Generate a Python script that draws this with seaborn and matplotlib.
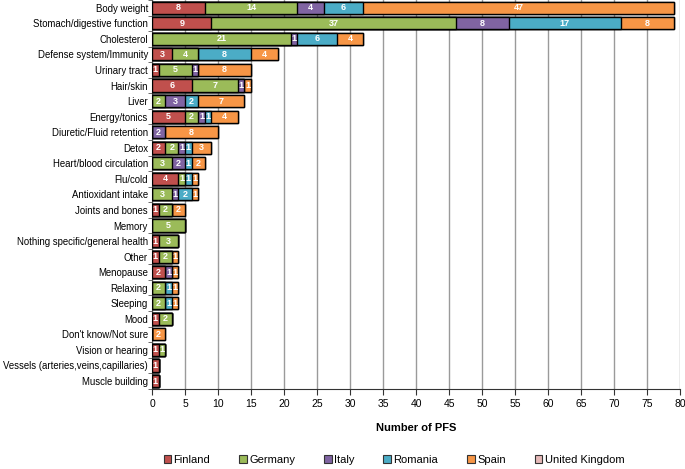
import numpy as np
import pandas as pd
import matplotlib.pyplot as plt
import seaborn as sns
from matplotlib.patches import Patch

categories = [
    "Body weight", "Stomach/digestive function", "Cholesterol", "Defense system/Immunity",
    "Urinary tract", "Hair/skin", "Liver", "Energy/tonics", "Diuretic/Fluid retention",
    "Detox", "Heart/blood circulation", "Flu/cold", "Antioxidant intake", "Joints and bones",
    "Memory", "Nothing specific/general health", "Other", "Menopause", "Relaxing",
    "Sleeping", "Mood", "Don't know/Not sure", "Vision or hearing",
    "Vessels (arteries,veins,capillaries)", "Muscle building",
]
finland = [8, 9, 0, 3, 1, 6, 0, 5, 0, 2, 0, 4, 0, 1, 0, 1, 1, 2, 0, 0, 1, 0, 1, 1, 1]
germany = [14, 37, 21, 4, 5, 7, 2, 2, 0, 2, 3, 1, 3, 2, 5, 3, 2, 0, 2, 2, 2, 0, 1, 0, 0]
italy = [4, 8, 1, 0, 1, 1, 3, 1, 2, 1, 2, 0, 1, 0, 0, 0, 0, 1, 0, 0, 0, 0, 0, 0, 0]
romania = [6, 17, 6, 8, 0, 0, 2, 1, 0, 1, 1, 1, 2, 0, 0, 0, 0, 0, 1, 1, 0, 0, 0, 0, 0]
spain = [47, 8, 4, 4, 8, 1, 7, 4, 8, 3, 2, 1, 1, 2, 0, 0, 1, 1, 1, 1, 0, 2, 0, 0, 0]
uk = [0] * 25

countries = ["Finland", "Germany", "Italy", "Romania", "Spain", "United Kingdom"]
colors = ["#C0504D", "#9BBB59", "#8064A2", "#4BACC6", "#F79646", "#E6B9B8"]

df = pd.DataFrame({"category": categories, "Finland": finland, "Germany": germany,
                   "Italy": italy, "Romania": romania, "Spain": spain,
                   "United Kingdom": uk})
cum = df[countries].cumsum(axis=1)

plt.rcParams["font.family"] = ["Liberation Sans", "DejaVu Sans"]
fig = plt.figure(figsize=(6.85, 4.69), dpi=100)
ax = fig.add_axes([0.222, 0.171, 0.771, 0.829])

# draw cumulative totals from last to first so segments stack
for country, color in reversed(list(zip(countries, colors))):
    sns.barplot(x=cum[country], y=df["category"], color=color, orient="h", saturation=1,
                edgecolor="black", linewidth=1.0, width=0.78, ax=ax, zorder=3)

for i in range(len(df)):
    for country in countries:
        v = df.loc[i, country]
        if v > 0:
            ax.text(cum.loc[i, country] - v / 2, i, str(v), ha="center", va="center",
                    color="white", fontsize=6.5, fontweight="bold", zorder=5)

ax.set_xlim(0, 80)
ax.set_ylim(24.5, -0.5)
ax.set_xticks(np.arange(0, 81, 5))
ax.xaxis.grid(True, color="#9a9a9a", linewidth=1.0, zorder=0)
ax.set_axisbelow(True)
for s in ["top", "right"]:
    ax.spines[s].set_visible(False)
ax.spines["left"].set_color("#555555")
ax.spines["bottom"].set_color("#333333")
ax.tick_params(axis="x", labelsize=7.5, length=4, color="#333333")
ax.tick_params(axis="y", labelsize=6.9, length=0, pad=3)
ax.set_yticks(np.arange(-0.5, 25, 1), minor=True)
ax.tick_params(axis="y", which="minor", length=3, color="#555555")
ax.set_ylabel("")
ax.set_xlabel("Number of PFS", fontsize=8, fontweight="bold", labelpad=10)

handles = [Patch(facecolor=c, edgecolor="#333333", linewidth=0.8) for c in colors]
fig.legend(handles, countries, loc="lower center", bbox_to_anchor=(0.575, -0.012), ncol=6,
           frameon=False, fontsize=8, handlelength=0.7, handleheight=0.7,
           handletextpad=0.2, columnspacing=2.6)

fig.savefig("out.png", dpi=100)
